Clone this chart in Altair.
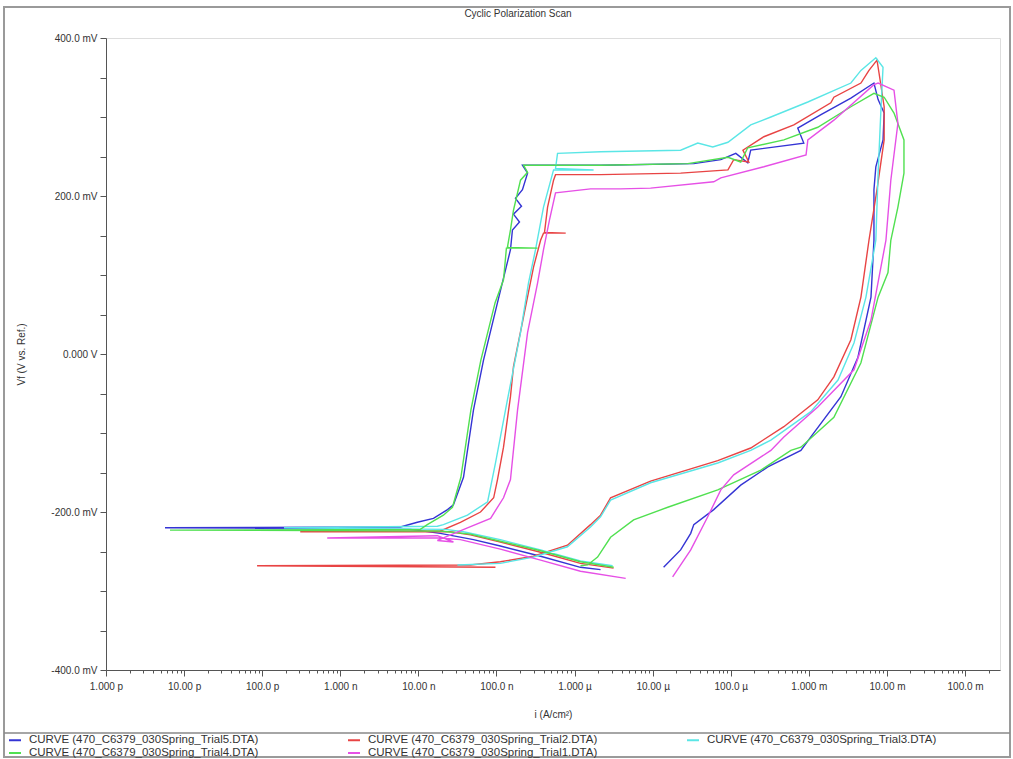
import altair as alt
import pandas as pd

SERIES = [
    "CURVE (470_C6379_030Spring_Trial5.DTA)",
    "CURVE (470_C6379_030Spring_Trial2.DTA)",
    "CURVE (470_C6379_030Spring_Trial3.DTA)",
    "CURVE (470_C6379_030Spring_Trial4.DTA)",
    "CURVE (470_C6379_030Spring_Trial1.DTA)",
]
COLORS = ["#3434d4", "#e84444", "#5ae6e6", "#50e050", "#e650e6"]

TITLE = "Cyclic Polarization Scan"

# current density (A/cm^2) and potential (mV)
TRIAL5_I = [2.15e-6, 1.19e-6, 3.67e-7, 1.12e-7, 5.07e-8, 1.91e-8, 7.9e-9, 5.7e-12, 5.9e-9,
            9.7e-9, 1.56e-8, 2.36e-8, 2.81e-8, 3.78e-8, 5.07e-8, 6.81e-8, 1.03e-7, 1.51e-7, 1.60e-7, 1.97e-7,
            1.65e-7, 2.09e-7, 1.75e-7, 2.15e-7, 2.50e-7, 2.15e-7,
            2.15e-6, 3.36e-5, 7.45e-5, 1.16e-4, 1.65e-4, 1.80e-4, 8.6e-4, 7.2e-4, 1.43e-3, 3.45e-3, 6.81e-3,
            7.7e-3, 9.2e-3, 8.9e-3, 7.2e-3, 6.81e-3, 6.81e-3, 6.24e-3, 4.25e-3, 2.57e-3, 1.06e-3, 7.9e-4,
            2.98e-4, 1.34e-4, 6.05e-5, 3.36e-5, 3.07e-5, 2.28e-5, 1.38e-5]
TRIAL5_E = [-273, -270, -256, -243, -235, -227, -222, -220, -219,
            -213, -208, -197, -191, -156, -71, -8, 65, 132, 157, 167, 177, 187, 197, 208, 229, 239,
            239, 241, 246, 254, 242, 258, 267, 286, 303, 324, 343,
            322, 305, 271, 237, 208, 144, 72, -4, -54, -105, -122, -143, -166, -197, -216, -227, -248, -270]

TRIAL2_I = [3.16e-6, 1.19e-6, 3.67e-7, 1.12e-7, 4.64e-8, 2.57e-8, 3.07e-10, 1.91e-8,
            3.45e-8, 6.24e-8, 9.2e-8, 1.03e-7, 1.23e-7, 1.51e-7, 1.65e-7, 2.22e-7, 2.98e-7, 3.67e-7,
            4.0e-7, 7.7e-7, 4.12e-7, 4.51e-7, 5.38e-7, 5.7e-7,
            2.15e-6, 2.28e-5, 9.2e-5, 1.09e-4, 1.70e-4, 1.43e-4, 2.65e-4, 6.42e-4, 1.91e-3, 2.09e-3,
            4.64e-3, 5.88e-3, 7.45e-3,
            7.9e-3, 9.2e-3, 9.2e-3, 7.45e-3, 5.88e-3, 4.64e-3, 3.45e-3, 2.09e-3, 1.30e-3, 4.78e-4, 1.80e-4,
            6.81e-5, 9.4e-6, 2.89e-6, 2.15e-6, 1.60e-6, 8.1e-7, 2.98e-7, 1.12e-7, 4.64e-8, 8.6e-11, 9.7e-8]
TRIAL2_E = [-271, -265, -251, -238, -229, -225, -225, -224,
            -213, -200, -182, -159, -118, -54, -16, 47, 110, 144, 153, 153, 154, 186, 220, 227,
            227, 229, 233, 246, 243, 258, 275, 290, 318, 325, 343, 359, 372,
            356, 313, 271, 208, 144, 72, 18, -29, -58, -92, -119, -135, -161, -182, -204, -216, -242,
            -256, -263, -267, -268, -270]

TRIAL3_I = [3.07e-6, 1.19e-6, 3.67e-7, 1.12e-7, 3.78e-8, 2.22e-8, 1.9e-10, 1.75e-8,
            2.09e-8, 4.25e-8, 7.7e-8, 9.7e-8, 1.38e-7, 2.03e-7, 2.57e-7, 3.16e-7, 4.0e-7, 5.38e-7,
            1.75e-6, 5.7e-7, 6.05e-7,
            2.15e-6, 2.28e-5, 3.78e-5, 5.88e-5, 9.2e-5, 1.80e-4, 3.26e-4, 9.7e-4, 3.45e-3, 4.64e-3, 7.2e-3,
            8.9e-3, 8.4e-3, 7.7e-3, 7.2e-3, 5.38e-3, 3.78e-3, 2.36e-3, 1.06e-3, 3.26e-4, 1.80e-4, 6.81e-5,
            9.4e-6, 2.89e-6, 2.15e-6, 1.60e-6, 8.1e-7, 2.98e-7, 1.12e-7, 3.16e-8]
TRIAL3_E = [-268, -262, -248, -235, -225, -222, -220, -218,
            -216, -204, -187, -138, -58, 27, 90, 132, 186, 233, 233, 235, 254,
            256, 258, 267, 262, 268, 290, 300, 319, 343, 359, 375,
            363, 313, 229, 144, 72, 14, -33, -73, -109, -122, -138, -163, -185, -206, -219, -244,
            -257, -265, -267]

TRIAL4_I = [3.16e-6, 1.19e-6, 3.67e-7, 1.12e-7, 4.64e-8, 1.91e-8, 6.6e-12, 1.06e-8,
            1.30e-8, 2.09e-8, 2.73e-8, 3.5e-8, 4.7e-8, 6.3e-8, 9.6e-8, 1.23e-7, 1.34e-7, 3.36e-7,
            1.38e-7, 1.51e-7, 1.65e-7, 2.03e-7, 2.50e-7, 2.22e-7,
            2.15e-6, 2.81e-5, 9.2e-5, 1.34e-4, 1.65e-4, 4.78e-4, 1.30e-3, 3.45e-3, 6.81e-3, 9.2e-3,
            1.23e-2, 1.65e-2, 1.65e-2, 1.38e-2, 1.12e-2, 1.03e-2, 7.7e-3, 4.64e-3, 2.09e-3, 7.9e-4,
            5.88e-4, 2.43e-4, 6.81e-5, 1.56e-5, 5.7e-6, 2.89e-6, 1.97e-6, 1.47e-6, 1.19e-6]
TRIAL4_E = [-270, -263, -249, -237, -228, -224, -223, -222,
            -216, -204, -194, -156, -71, -8, 65, 94, 134, 134, 135, 157, 182, 220, 230, 239,
            239, 241, 249, 243, 261, 271, 287, 313, 330, 325,
            305, 271, 229, 186, 144, 103, 72, -11, -80, -118, -122, -147, -172, -194, -210, -232,
            -257, -267, -268]

TRIAL1_I = [4.51e-6, 1.19e-6, 3.67e-7, 1.12e-7, 3.45e-8, 1.91e-8, 6.8e-10, 1.75e-8, 2.81e-8, 1.75e-8,
            4.25e-8, 8.4e-8, 1.23e-7, 1.51e-7, 1.86e-7, 2.50e-7, 3.36e-7, 4.0e-7, 4.78e-7, 5.7e-7,
            1.60e-6, 3.89e-6, 9.4e-6, 6.05e-5, 7.45e-5, 2.65e-4, 9.2e-4, 9.7e-4, 2.09e-3, 6.81e-3, 7.7e-3,
            1.23e-2, 1.38e-2, 1.12e-2, 9.7e-3, 6.24e-3, 3.78e-3, 1.30e-3, 4.78e-4, 3.26e-4, 1.09e-4,
            7.45e-5, 5.07e-5, 3.07e-5, 1.80e-5]
TRIAL1_E = [-284, -275, -261, -247, -235, -233, -233, -230, -238, -236,
            -220, -208, -182, -159, -71, 27, 90, 132, 170, 204,
            209, 209, 210, 218, 223, 237, 252, 271, 296, 341, 343,
            334, 292, 220, 144, 43, -20, -67, -105, -122, -153, -172, -206, -248, -282]

X_TICK_LABELS = ["1.000 p", "10.00 p", "100.0 p", "1.000 n", "10.00 n", "100.0 n",
                 "1.000 µ", "10.00 µ", "100.0 µ", "1.000 m", "10.00 m", "100.0 m"]
Y_TICK_LABELS = ["-400.0 mV", "-200.0 mV", "0.000 V", "200.0 mV", "400.0 mV"]

FONT = "Liberation Sans"

curves = [TRIAL5_I, TRIAL2_I, TRIAL3_I, TRIAL4_I, TRIAL1_I]
pots = [TRIAL5_E, TRIAL2_E, TRIAL3_E, TRIAL4_E, TRIAL1_E]
frames = []
for name, ii, ee in zip(SERIES, curves, pots):
    frames.append(pd.DataFrame({"series": name, "i": ii, "E": ee, "idx": list(range(len(ii)))}))
df = pd.concat(frames, ignore_index=True)

x_ticks = []
for e in range(-12, 0):
    for m in range(1, 10):
        x_ticks.append(float(f"{m}e{e}"))
x_ticks.append(2e-1)
y_ticks = list(range(-400, 401, 50))

xlab = "[" + ",".join("'" + s + "'" for s in X_TICK_LABELS) + "]"
ylab = "[" + ",".join("'" + s + "'" for s in Y_TICK_LABELS) + "]"
is_decade = "abs(log(datum.value)/LN10 - round(log(datum.value)/LN10)) < 0.001"

x_axis = alt.Axis(
    values=x_ticks,
    labelExpr=f"{is_decade} ? {xlab}[round(log(datum.value)/LN10)+12] : ''",
    tickSize={"condition": {"test": is_decade, "value": 6}, "value": 3},
    labelFlush=False, labelOverlap=False, grid=False,
    labelFont=FONT, labelFontSize=10, labelColor="#333333", labelPadding=5,
    titleFont=FONT, titleFontSize=10, titleFontWeight="normal", titleColor="#333333", titlePadding=18,
    tickColor="#555555", domainColor="#555555",
)
y_axis = alt.Axis(
    values=y_ticks,
    labelExpr=f"datum.value % 200 == 0 ? {ylab}[(datum.value + 400) / 200] : ''",
    tickSize=6, grid=False, labelOverlap=False, labelFlush=False,
    labelFont=FONT, labelFontSize=10, labelColor="#333333", labelPadding=3,
    titleFont=FONT, titleFontSize=10, titleFontWeight="normal", titleColor="#333333", titlePadding=24,
    tickColor="#555555", domainColor="#555555",
)

lines = alt.Chart(df).mark_line(strokeWidth=1.4, clip=True).encode(
    x=alt.X("i:Q", title="i (A/cm²)",
            scale=alt.Scale(type="log", domain=[1e-12, 0.28], nice=False), axis=x_axis),
    y=alt.Y("E:Q", title="Vf (V vs. Ref.)",
            scale=alt.Scale(domain=[-400, 400], nice=False), axis=y_axis),
    color=alt.Color("series:N", scale=alt.Scale(domain=SERIES, range=COLORS),
                    legend=alt.Legend(orient="none", legendX=-98, legendY=695, columns=3,
                                      direction="horizontal",
                                      title=None, symbolType="stroke", symbolSize=144,
                                      symbolStrokeWidth=2, labelFont=FONT, labelFontSize=11.5,
                                      labelColor="#333333", labelLimit=500, columnPadding=85,
                                      rowPadding=-1.5, labelOffset=7)),
    order=alt.Order("idx:Q"),
)

deco = pd.DataFrame({"k": [0]})
sep = alt.Chart(deco).mark_rule(color="#888888", strokeWidth=1.5).encode(
    x=alt.value(-102), x2=alt.value(904), y=alt.value(695))
border = alt.Chart(deco).mark_rect(fillOpacity=0, stroke="#9a9a9a", strokeWidth=2).encode(
    x=alt.value(-102), x2=alt.value(904), y=alt.value(-31), y2=alt.value(719))
title = alt.Chart(deco).mark_text(text=TITLE, font=FONT, fontSize=10, color="#333333",
                                  align="center", baseline="middle").encode(
    x=alt.value(412), y=alt.value(-24))

chart = alt.layer(border, sep, title, lines).properties(
    width=894, height=632,
    padding={"left": 106, "top": 38, "right": 13, "bottom": 89},
    autosize=alt.AutoSizeParams(type="none"),
).configure_view(stroke="#505050", strokeWidth=1.5).configure(background="white")

chart.save("out.html", embed_options={"renderer": "svg", "actions": False})
